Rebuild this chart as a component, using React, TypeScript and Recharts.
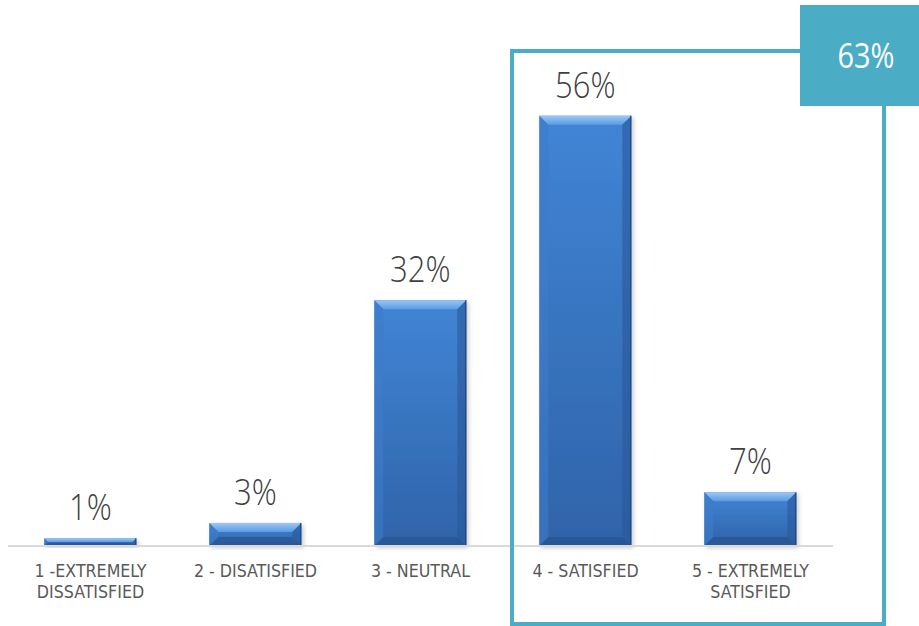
import { BarChart, Bar, XAxis, YAxis, LabelList } from 'recharts'

const categories = [
  '1 -EXTREMELY\nDISSATISFIED',
  '2 - DISATISFIED',
  '3 - NEUTRAL',
  '4 - SATISFIED',
  '5 - EXTREMELY\nSATISFIED',
]
const shares = [1, 3, 32, 56, 7]
const satisfiedIdx = [3, 4]

const data = categories.map((name, i) => ({ name, value: shares[i] }))
const satisfiedTotal = satisfiedIdx.reduce((s, i) => s + shares[i], 0)

const TEAL = '#4BACC6'

function BevelBar(props: any) {
  const { x, y, width, height } = props
  if (!height || height <= 0) return null
  const b = Math.min(9, height / 2, width / 2)
  const r = x + width
  const btm = y + height
  return (
    <g filter="url(#barShadow)">
      <rect x={x} y={y} width={width} height={height} fill="url(#barFace)" />
      <polygon points={`${x},${y} ${r},${y} ${r - b},${y + b} ${x + b},${y + b}`} fill="url(#barTop)" />
      <polygon points={`${x},${y} ${x + b},${y + b} ${x + b},${btm - b} ${x},${btm}`} fill="#3D7CC9" opacity={0.6} />
      <polygon points={`${r},${y} ${r - b},${y + b} ${r - b},${btm - b} ${r},${btm}`} fill="#2A5899" opacity={0.6} />
      <polygon points={`${x},${btm} ${x + b},${btm - b} ${r - b},${btm - b} ${r},${btm}`} fill="#24508C" opacity={0.6} />
      <line x1={r - 0.5} y1={y} x2={r - 0.5} y2={btm} stroke="#1E4475" strokeWidth={1} />
    </g>
  )
}

function ValueLabel(props: any) {
  const { x, y, width, value } = props
  const cx = x + width / 2
  const ty = y - 18
  return (
    <text
      x={0}
      y={0}
      transform={`translate(${cx},${ty}) scale(0.84,1)`}
      textAnchor="middle"
      fill="#404040"
      fontSize={37}
      fontFamily="'Open Sans', sans-serif"
      fontWeight={300}
    >
      {value}%
    </text>
  )
}

function CategoryTick(props: any) {
  const { x, y, payload } = props
  const lines = String(payload.value).split('\n')
  return (
    <text
      x={0}
      y={0}
      transform={`translate(${x},${y}) scale(0.98,1)`}
      textAnchor="middle"
      fill="#595959"
      fontSize={18}
      fontFamily="'DejaVu Sans Condensed', 'DejaVu Sans', sans-serif"
    >
      {lines.map((l, i) => (
        <tspan key={i} x={0} dy={i === 0 ? 29 : 21}>
          {l}
        </tspan>
      ))}
    </text>
  )
}

export default function App() {
  return (
    <div style={{ position: 'absolute', left: 0, top: 0, width: 919, height: 626, background: '#fff', overflow: 'hidden' }}>
      <svg width={0} height={0} style={{ position: 'absolute' }}>
        <defs>
          <linearGradient id="barFace" x1="0" y1="0" x2="0" y2="1">
            <stop offset="0%" stopColor="#4185D6" />
            <stop offset="100%" stopColor="#2F63A9" />
          </linearGradient>
          <linearGradient id="barTop" x1="0" y1="0" x2="0" y2="1">
            <stop offset="0%" stopColor="#9CC8F4" />
            <stop offset="100%" stopColor="#5A9BE2" />
          </linearGradient>
          <filter id="barShadow" x="-10%" y="-10%" width="125%" height="125%">
            <feDropShadow dx="2" dy="2" stdDeviation="2" floodColor="#000" floodOpacity="0.2" />
          </filter>
        </defs>
      </svg>
      <BarChart
        width={919}
        height={626}
        data={data}
        margin={{ top: 85, right: 86, left: 8, bottom: 20 }}
        barCategoryGap="22%"
      >
        <XAxis
          dataKey="name"
          interval={0}
          height={60}
          tickLine={false}
          tickSize={0}
          axisLine={{ stroke: '#D9D9D9', strokeWidth: 2 }}
          tick={<CategoryTick />}
        />
        <YAxis hide domain={[0, 60]} />
        <Bar dataKey="value" shape={<BevelBar />} isAnimationActive={false}>
          <LabelList dataKey="value" content={<ValueLabel />} />
        </Bar>
      </BarChart>
      <svg width={919} height={626} style={{ position: 'absolute', left: 0, top: 0, pointerEvents: 'none' }}>
        <rect x={512} y={51} width={372} height={573} fill="none" stroke={TEAL} strokeWidth={4} />
        <rect x={800} y={5} width={119} height={101} fill={TEAL} />
        <text
          x={866}
          y={68}
          textAnchor="middle"
          fill="#fff"
          fontSize={34}
          fontFamily="'Open Sans', sans-serif"
          transform="translate(866,0) scale(0.85,1) translate(-866,0)"
        >
          {satisfiedTotal}%
        </text>
      </svg>
    </div>
  )
}
